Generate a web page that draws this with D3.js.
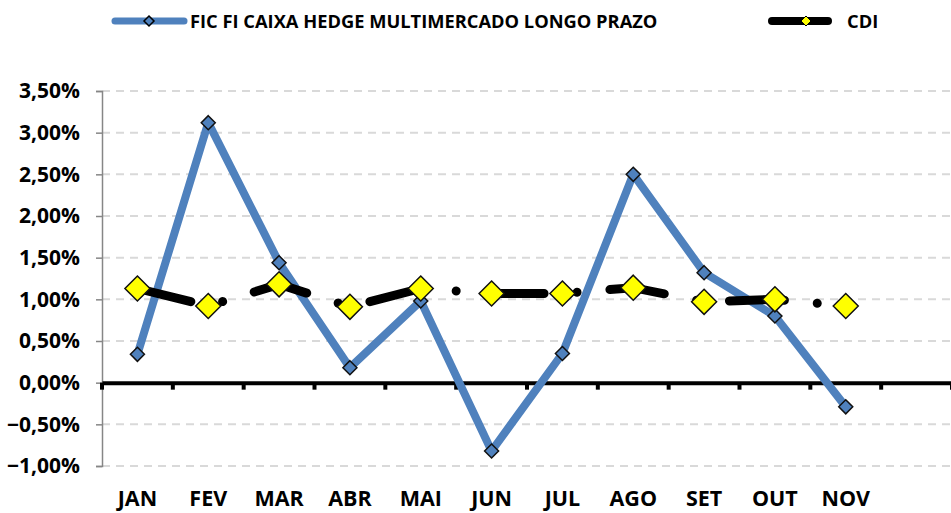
<!DOCTYPE html>
<html>
<head>
<meta charset="utf-8">
<script src="https://cdn.jsdelivr.net/npm/d3@7"></script>
<style>
  html, body { margin: 0; padding: 0; background: #fff; }
  svg { display: block; font-family: 'Open Sans', sans-serif; font-weight: bold; }
</style>
</head>
<body>
<svg id="chart"></svg>
<script>
// meses (o 12º espaço fica vazio, como no original)
const months = ['JAN', 'FEV', 'MAR', 'ABR', 'MAI', 'JUN', 'JUL', 'AGO', 'SET', 'OUT', 'NOV']
const fundValues = [0.34, 3.12, 1.44, 0.18, 0.98, -0.82, 0.35, 2.50, 1.32, 0.80, -0.29]
const cdiValues = [1.13, 0.92, 1.18, 0.91, 1.13, 1.07, 1.07, 1.14, 0.97, 1.00, 0.92]
const yTicks = [-1, -0.5, 0, 0.5, 1, 1.5, 2, 2.5, 3, 3.5]
const seriesNames = ['FIC FI CAIXA HEDGE MULTIMERCADO LONGO PRAZO', 'CDI']

const width = 951
const height = 513
const fundColor = '#4F81BD'
const cdiColor = '#000000'

const svg = d3.select('#chart')
  .attr('width', width)
  .attr('height', height)

const x = d3.scaleBand()
  .domain(d3.range(12))
  .range([102, 952])

const y = d3.scaleLinear()
  .domain([-1, 3.5])
  .range([466, 91])

const fmt = v => d3.format('.2f')(v).replace('.', ',') + '%'

// grade
svg.append('g')
  .selectAll('line')
  .data(yTicks.filter(t => t !== 0))
  .enter()
  .append('line')
  .attr('x1', 102)
  .attr('x2', width)
  .attr('y1', d => y(d))
  .attr('y2', d => y(d))
  .attr('stroke', '#D9D9D9')
  .attr('stroke-width', 2)
  .attr('stroke-dasharray', '8,6')

// eixo y
const yAxis = svg.append('g')
  .attr('transform', 'translate(102,0)')
  .call(d3.axisLeft(y).tickValues(yTicks).tickFormat(fmt).tickSize(6).tickPadding(16))
yAxis.select('.domain').attr('stroke', '#868686').attr('stroke-width', 1.5)
yAxis.selectAll('.tick line').attr('stroke', '#868686').attr('stroke-width', 1.5)
yAxis.selectAll('.tick text')
  .attr('font-size', 21)
  .attr('font-family', "'Open Sans', sans-serif")
  .attr('font-weight', 'bold')
  .attr('fill', '#000')

// eixo x (linha do zero)
const xAxis = svg.append('g')
  .attr('transform', `translate(0,${y(0)})`)
  .call(d3.axisBottom(x).tickSize(0).tickFormat(''))
xAxis.select('.domain').attr('stroke', '#000').attr('stroke-width', 4)
svg.append('g')
  .selectAll('line')
  .data(d3.range(13))
  .enter()
  .append('line')
  .attr('x1', d => 102 + d * x.step())
  .attr('x2', d => 102 + d * x.step())
  .attr('y1', y(0))
  .attr('y2', y(0) + 7)
  .attr('stroke', '#000')
  .attr('stroke-width', 4)

// rótulos dos meses
svg.append('g')
  .selectAll('text')
  .data(months)
  .enter()
  .append('text')
  .attr('x', (d, i) => x(i) + x.bandwidth() / 2)
  .attr('y', 506)
  .attr('text-anchor', 'middle')
  .attr('font-size', 21.5)
  .text(d => d)

const cx = (d, i) => x(i) + x.bandwidth() / 2

const line = d3.line()
  .x((d, i) => cx(d, i))
  .y(d => y(d))

// linhas
svg.append('path')
  .datum(fundValues)
  .attr('d', line)
  .attr('fill', 'none')
  .attr('stroke', fundColor)
  .attr('stroke-width', 8)
  .attr('stroke-linejoin', 'round')

svg.append('path')
  .datum(cdiValues)
  .attr('d', line)
  .attr('fill', 'none')
  .attr('stroke', cdiColor)
  .attr('stroke-width', 9)
  .attr('stroke-linecap', 'round')
  .attr('stroke-dasharray', '55,33,0.01,33')

function diamond(cxv, cyv, r) {
  return `M${cxv},${cyv - r}L${cxv + r},${cyv}L${cxv},${cyv + r}L${cxv - r},${cyv}Z`
}

// marcadores
svg.append('g')
  .selectAll('path')
  .data(fundValues)
  .enter()
  .append('path')
  .attr('d', (d, i) => diamond(cx(d, i), y(d), 7))
  .attr('fill', fundColor)
  .attr('stroke', '#111')
  .attr('stroke-width', 1.5)

svg.append('g')
  .selectAll('path')
  .data(cdiValues)
  .enter()
  .append('path')
  .attr('d', (d, i) => diamond(cx(d, i), y(d), 12.5))
  .attr('fill', '#FFFF00')
  .attr('stroke', '#111')
  .attr('stroke-width', 1.5)

// legenda
const legend = svg.append('g')
legend.append('line')
  .attr('x1', 115).attr('x2', 184).attr('y1', 21).attr('y2', 21)
  .attr('stroke', fundColor).attr('stroke-width', 7).attr('stroke-linecap', 'round')
legend.append('path')
  .attr('d', diamond(149, 21, 5))
  .attr('fill', fundColor).attr('stroke', '#000').attr('stroke-width', 1.5)
legend.append('text')
  .attr('x', 190).attr('y', 28)
  .attr('font-size', 18.3)
  .text(seriesNames[0])

legend.append('line')
  .attr('x1', 772).attr('x2', 828).attr('y1', 21).attr('y2', 21)
  .attr('stroke', cdiColor).attr('stroke-width', 8).attr('stroke-linecap', 'round')
legend.append('path')
  .attr('d', diamond(806, 21, 5))
  .attr('fill', '#FFFF00').attr('stroke', '#000').attr('stroke-width', 1)
legend.append('text')
  .attr('x', 847).attr('y', 28)
  .attr('font-size', 18.3)
  .text(seriesNames[1])
</script>
</body>
</html>
